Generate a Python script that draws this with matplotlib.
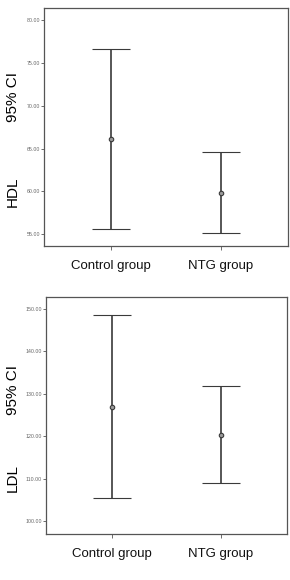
import numpy as np
import matplotlib.pyplot as plt

plt.rcParams['font.family'] = ['Liberation Sans', 'DejaVu Sans']

groups = ["Control group", "NTG group"]

# HDL: mean and 95% CI bounds
hdl_mean = [66.07, 59.81]
hdl_low = [55.53, 55.13]
hdl_high = [76.60, 64.54]

# LDL: mean and 95% CI bounds
ldl_mean = [126.9, 120.4]
ldl_low = [105.4, 109.0]
ldl_high = [148.5, 131.8]

hdl_ticks = [55, 60, 65, 70, 75, 80]
ldl_ticks = [100, 110, 120, 130, 140, 150]

line_col = '#3a3a3a'

fig = plt.figure(figsize=(2.9, 5.8), dpi=100)

def draw_panel(ax, mean, low, high, ticks, ylim, name, name_y, ci_y):
    x = np.arange(len(groups))
    mean = np.array(mean)
    err = [mean - np.array(low), np.array(high) - mean]
    ax.errorbar(x, mean, yerr=err, fmt='o', color=line_col, ecolor=line_col,
                elinewidth=1.2, capsize=13.5, capthick=1.2,
                markersize=3.2, markerfacecolor='#9a9a9a', markeredgecolor=line_col,
                markeredgewidth=0.8)
    ax.set_xlim(-0.61, 1.61)
    ax.set_ylim(*ylim)
    ax.set_xticks(x)
    ax.set_xticklabels(groups, fontsize=9.5, color='#111111')
    ax.set_yticks(ticks)
    ax.set_yticklabels(["%.2f" % t for t in ticks], fontsize=3.8, color='#666666')
    ax.tick_params(axis='y', length=2.5, width=0.6, color='#555555', pad=0.5)
    ax.tick_params(axis='x', length=3, width=0.6, color='#555555', pad=7)
    for s in ax.spines.values():
        s.set_color('#555555')
        s.set_linewidth(0.9)
    # y label in two pieces, SPSS style
    fig.text(0.045, name_y, name, rotation=90, ha='center', va='center', fontsize=11)
    fig.text(0.045, ci_y, "95% CI", rotation=90, ha='center', va='center', fontsize=11)

ax1 = fig.add_axes([44/290, 1 - 245.7/580, 243.7/290, 237.4/580])
draw_panel(ax1, hdl_mean, hdl_low, hdl_high, hdl_ticks, (53.63, 81.4),
           "HDL", 1 - 192/580, 1 - 97/580)

ax2 = fig.add_axes([46/290, 1 - 534.3/580, 241/290, 237.6/580])
draw_panel(ax2, ldl_mean, ldl_low, ldl_high, ldl_ticks, (96.94, 152.9),
           "LDL", 1 - 478/580, 1 - 390/580)

fig.savefig("out.png", dpi=100)
